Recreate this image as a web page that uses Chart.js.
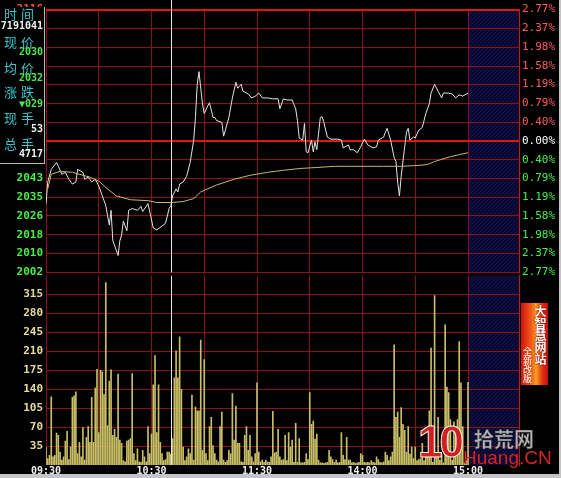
<!DOCTYPE html>
<html>
<head>
<meta charset="utf-8">
<script src="https://cdn.jsdelivr.net/npm/chart.js@4.4.0/dist/chart.umd.min.js"></script>
<style>
  html, body { margin: 0; padding: 0; background: #000; }
  #wrap { position: relative; width: 561px; height: 478px; background: #000; overflow: hidden; }
  #wrap canvas { position: absolute; left: 0; }
  #priceChart { top: 0; z-index: 2; }
  #volChart { top: 266px; z-index: 1; }
  .frame-r { position: absolute; right: 0; top: 0; width: 2px; height: 478px; background: #c4c4c4; z-index: 9; }
  .frame-b { position: absolute; left: 0; top: 474px; width: 561px; height: 4px; background: #c4c4c4; z-index: 9; }
  #info { position: absolute; left: 0; top: 7px; width: 44px; height: 156px; background: #000;
          border-right: 1px solid #b8b8b8; border-bottom: 1px solid #b8b8b8; z-index: 5; }
  #info div { position: absolute; left: 0; width: 43px; height: 14px; line-height: 14px; white-space: nowrap; }
  #info .lab { font: 13px "Noto Sans CJK SC"; color: #38c4cc; letter-spacing: 4px; padding-left: 4px; }
  #info .val { font: bold 10px "DejaVu Sans Mono"; text-align: right; }
  .w { color: #f4f4f4; } .g { color: #4ee84e; }
  #ad { position: absolute; left: 521px; top: 303px; width: 27px; height: 82px; z-index: 5;
        background: linear-gradient(90deg, #d81010 0%, #f06018 40%, #f8a020 55%, #e03010 80%, #c80c0c 100%); }
  #ad .big { position: absolute; left: 13px; top: 2px; writing-mode: vertical-rl; font: bold 12px "Noto Sans CJK SC";
             color: #fff; line-height: 13px; text-shadow: 0 0 1px #800, 0 0 2px #800; }
  #ad .small { position: absolute; left: 1px; top: 44px; writing-mode: vertical-rl; font: 9px "Noto Sans CJK SC";
               color: #fff; line-height: 10px; }
  #logo { position: absolute; left: 414px; top: 422px; width: 140px; height: 50px; z-index: 6; }
  #logo .ten { position: absolute; left: 4px; top: -5px; font: bold 44px "Liberation Sans"; color: #d41e1e;
               -webkit-text-stroke: 1px #f0f0f0; letter-spacing: -3px; }
  #logo .cn { position: absolute; left: 60px; top: 2px; font: bold 20px "Noto Sans CJK SC"; color: #b4b4b4;
              -webkit-text-stroke: 0.5px #333; }
  #logo .en { position: absolute; left: 49px; top: 25px; font: 19px "Liberation Sans"; color: #d82222; }
</style>
</head>
<body>
<div id="wrap">
  <canvas id="priceChart" width="561" height="282"></canvas>
  <canvas id="volChart" width="561" height="212"></canvas>
  <div id="info">
    <div class="lab" style="top:-3px">时间</div>
    <div class="val w" style="top:13px">7191041</div>
    <div class="lab" style="top:25px">现价</div>
    <div class="val g" style="top:39px">2030</div>
    <div class="lab" style="top:51px">均价</div>
    <div class="val g" style="top:65px">2032</div>
    <div class="lab" style="top:75px">涨跌</div>
    <div class="val g" style="top:91px">▼029</div>
    <div class="lab" style="top:101px">现手</div>
    <div class="val w" style="top:116px">53</div>
    <div class="lab" style="top:127px">总手</div>
    <div class="val w" style="top:141px">4717</div>
  </div>
  <div id="ad"><div class="big">大智慧网站</div><div class="small">全新改版</div></div>
  <div id="logo"><span class="ten">10</span><span class="cn">拾荒网</span><span class="en">Huang.CN</span></div>
  <div class="frame-r"></div>
  <div class="frame-b"></div>
</div>
<script>
// --- data ---
const PRE_CLOSE = 2059;
const CURSOR_MINUTE = 71;          // 10:41 crosshair
const X_MAX = 269;                 // axis runs a bit past 15:00 (shaded area)

const pctTicks = [2.77, 2.37, 1.98, 1.58, 1.19, 0.79, 0.40, 0.00, -0.40, -0.79, -1.19, -1.58, -1.98, -2.37, -2.77];
const priceTickLabels = [2116, 2108, 2100, 2092, 2084, 2075, 2067, 2059, 2051, 2043, 2035, 2026, 2018, 2010, 2002];
const volTicks = [35, 70, 105, 140, 175, 210, 245, 280, 315];
const gridMinutes = [0, 30, 60, 90, 120, 150, 180, 210, 240];
const timeLabels = { 0: '09:30', 60: '10:30', 120: '11:30', 180: '14:00', 240: '15:00' };

const priceMinutes = [0, 1, 3, 6, 7, 9, 11, 13, 15, 17, 18, 21, 22, 24, 26, 28, 30, 32, 34, 35, 36, 37, 38, 40, 41, 42, 43, 44, 46, 47,
  49, 52, 54, 55, 58, 59, 61, 63, 66, 68, 70, 71, 72, 74, 75, 76, 78, 80, 82, 84, 85, 86, 87, 88, 89, 90, 92, 93, 95, 96,
  97, 100, 101, 102, 104, 106, 108, 109, 111, 112, 115, 117, 119, 121, 123, 126, 129, 132, 133, 135, 137, 140, 142, 143, 144, 146, 147, 148, 149, 151,
  152, 153, 154, 156, 157, 158, 160, 162, 166, 168, 169, 172, 173, 175, 177, 179, 181, 183, 186, 188, 189, 192, 193, 194, 196, 198, 199, 200, 201, 202,
  204, 205, 206, 207, 209, 210, 212, 214, 216, 218, 219, 221, 223, 225, 226, 229, 231, 233, 235, 237, 239, 240];
const priceValues = [2031.8, 2041.2, 2046.7, 2049.7, 2048.0, 2044.6, 2045.4, 2042.4, 2040.3, 2041.2, 2046.7, 2045.4, 2042.4, 2043.3, 2041.2, 2042.4, 2039.5, 2035.2, 2031.0, 2026.7, 2022.5, 2028.9, 2015.7, 2011.5, 2009.3, 2015.7, 2018.2, 2024.2, 2020.0, 2028.9,
  2029.7, 2028.9, 2030.6, 2028.4, 2031.8, 2028.4, 2021.2, 2020.4, 2022.1, 2023.3, 2029.7, 2030.9, 2035.2, 2038.2, 2036.9, 2040.3, 2041.2, 2043.7, 2049.7, 2059.4, 2069.2, 2083.6, 2089.1, 2081.9, 2075.1, 2070.9, 2074.3, 2075.6, 2069.2, 2069.2,
  2067.9, 2067.1, 2061.1, 2063.7, 2069.2, 2077.7, 2084.5, 2081.9, 2083.6, 2080.6, 2079.4, 2077.7, 2078.5, 2079.8, 2077.7, 2077.7, 2077.3, 2077.3, 2073.0, 2077.3, 2076.8, 2076.8, 2073.0, 2067.9, 2060.3, 2059.4, 2066.6, 2054.3, 2053.9, 2059.4,
  2054.3, 2058.6, 2055.2, 2069.2, 2069.6, 2067.1, 2060.7, 2059.8, 2059.8, 2059.4, 2056.0, 2057.3, 2055.2, 2055.2, 2053.9, 2056.5, 2059.8, 2057.3, 2056.0, 2056.5, 2059.4, 2060.7, 2062.8, 2064.5, 2059.4, 2051.8, 2050.1, 2041.2, 2035.2, 2043.7,
  2056.5, 2062.8, 2064.5, 2059.4, 2060.7, 2060.3, 2063.7, 2064.9, 2070.9, 2075.1, 2079.8, 2083.6, 2080.6, 2077.7, 2079.8, 2079.8, 2079.4, 2077.7, 2079.0, 2078.5, 2079.4, 2079.8];

const avgMinutes = [1, 3, 8, 15, 25, 30, 35, 40, 48, 58, 63, 71, 78, 84, 88, 97, 107, 116, 126, 135, 145, 154, 164, 173, 192, 202, 212, 217, 221, 230, 240];
const avgValues = [2038.2, 2044.6, 2045.8, 2045.4, 2043.3, 2041.6, 2038.2, 2035.2, 2033.5, 2033.1, 2032.3, 2032.3, 2032.7, 2034.0, 2036.9, 2039.9, 2042.4, 2044.1, 2045.4, 2046.3,
  2047.1, 2047.5, 2048.0, 2048.0, 2048.0, 2048.0, 2048.4, 2048.8, 2050.1, 2052.2, 2053.9];

// one bar per minute, 09:30 .. 15:00
const volumes = [33, 12, 18, 126, 15, 18, 59, 55, 24, 9, 15, 44, 62, 10, 33, 125, 128, 135, 21, 42, 15, 69, 9, 51, 71, 42, 125, 42, 142, 177,
  60, 175, 172, 130, 337, 73, 155, 176, 55, 66, 51, 168, 46, 40, 8, 6, 44, 46, 49, 169, 21, 8, 30, 6, 5, 27, 15, 6, 71, 21,
  57, 148, 202, 60, 148, 42, 21, 8, 10, 24, 24, 20, 49, 161, 211, 161, 237, 140, 33, 8, 15, 30, 21, 129, 9, 107, 100, 100, 231, 27,
  195, 21, 8, 71, 88, 36, 21, 9, 6, 71, 98, 9, 5, 8, 27, 21, 132, 46, 109, 40, 40, 6, 5, 55, 71, 27, 55, 15, 6, 21,
  152, 24, 6, 9, 5, 9, 6, 5, 15, 99, 22, 24, 66, 15, 9, 10, 55, 8, 60, 33, 46, 5, 77, 5, 49, 4, 4, 5, 21, 10,
  134, 75, 81, 48, 57, 9, 4, 4, 3, 4, 5, 27, 15, 10, 5, 9, 4, 5, 60, 18, 10, 51, 9, 9, 4, 5, 3, 4, 5, 21,
  18, 5, 4, 5, 4, 8, 5, 4, 15, 10, 5, 4, 6, 24, 18, 8, 15, 24, 222, 88, 98, 51, 106, 75, 64, 24, 71, 20, 33, 12,
  33, 8, 10, 12, 40, 8, 20, 18, 100, 216, 5, 313, 20, 88, 9, 20, 4, 259, 144, 134, 84, 9, 80, 71, 84, 228, 152, 71, 4, 8,
  153];

// --- styling helpers ---
const GRID = '#8e1019';
const GRID_HOT = '#e01616';
const MONO = 'DejaVu Sans Mono';

function hatchPattern(ctx) {
  const c = document.createElement('canvas');
  c.width = 4; c.height = 4;
  const g = c.getContext('2d');
  g.fillStyle = '#08082e';
  g.fillRect(0, 0, 4, 4);
  g.fillStyle = '#141452';
  for (let i = 0; i < 4; i++) g.fillRect(i, 3 - i, 1, 1);
  return ctx.createPattern(c, 'repeat');
}

// shaded area after the close + the crosshair
const closedArea = {
  id: 'closedArea',
  beforeDraw(chart) {
    const { ctx, chartArea: a, scales: { x } } = chart;
    const x0 = x.getPixelForValue(240);
    ctx.save();
    ctx.fillStyle = hatchPattern(ctx);
    ctx.fillRect(x0, a.top, a.right - x0, a.bottom - a.top);
    ctx.restore();
  }
};
const cursorLine = {
  id: 'cursorLine',
  afterDatasetsDraw(chart, args, opts) {
    const { ctx, chartArea: a, scales: { x } } = chart;
    const px = Math.round(x.getPixelForValue(CURSOR_MINUTE)) + 0.5;
    ctx.save();
    ctx.strokeStyle = '#e8e8e8';
    ctx.lineWidth = 1;
    ctx.beginPath();
    ctx.moveTo(px, opts.fromTop ? 0 : a.top);
    ctx.lineTo(px, a.bottom);
    ctx.stroke();
    ctx.restore();
  }
};

const xGridAxis = {
  type: 'linear', min: 0, max: X_MAX, offset: false,
  afterBuildTicks: s => { s.ticks = gridMinutes.map(v => ({ value: v })); },
  grid: { color: GRID, lineWidth: 1, drawTicks: false, offset: false },
  border: { display: false }
};

// 1. price + average line
new Chart(document.getElementById('priceChart'), {
  type: 'line',
  data: {
    datasets: [
      {
        label: '均价',
        data: avgMinutes.map((m, i) => ({ x: m, y: avgValues[i] })),
        borderColor: '#cbb56c', borderWidth: 1, pointRadius: 0, tension: 0, yAxisID: 'y'
      },
      {
        label: '现价',
        data: priceMinutes.map((m, i) => ({ x: m, y: priceValues[i] })),
        borderColor: '#e4e4e4', borderWidth: 1, pointRadius: 0, tension: 0, yAxisID: 'y'
      }
    ]
  },
  options: {
    responsive: false,
    animation: false,
    layout: { padding: { top: 8, bottom: 8, left: 0, right: 0 } },
    plugins: { legend: { display: false }, tooltip: { enabled: false }, cursorLine: { fromTop: true } },
    scales: {
      x: Object.assign({}, xGridAxis, {
        ticks: { display: false },
        afterFit: s => { s.height = 0; }
      }),
      y: {
        position: 'left',
        min: PRE_CLOSE * (1 - 0.0277), max: PRE_CLOSE * (1 + 0.0277),
        afterBuildTicks: s => { s.ticks = pctTicks.map(p => ({ value: PRE_CLOSE * (1 + p / 100) })); },
        ticks: {
          padding: 3,
          font: { family: MONO, size: 11, weight: 'bold' },
          color: c => c.tick.value > PRE_CLOSE + 0.5 ? '#ff4a4a' : (c.tick.value < PRE_CLOSE - 0.5 ? '#48ee48' : '#ffffff'),
          callback: (v, i) => priceTickLabels[i]
        },
        grid: {
          drawTicks: false,
          color: c => (Math.abs(c.tick.value - PRE_CLOSE) < 0.5 || c.index === 0) ? GRID_HOT : GRID,
          lineWidth: c => (Math.abs(c.tick.value - PRE_CLOSE) < 0.5 || c.index === 0) ? 2 : 1
        },
        border: { display: false },
        afterFit: s => { s.width = 46; }
      },
      y1: {
        position: 'right',
        min: -2.77, max: 2.77,
        afterBuildTicks: s => { s.ticks = pctTicks.map(p => ({ value: p })); },
        ticks: {
          padding: 3,
          font: { family: MONO, size: 11 },
          color: c => c.tick.value > 0.001 ? '#ff5a5a' : (c.tick.value < -0.001 ? '#48ee48' : '#ffffff'),
          callback: v => Math.abs(v).toFixed(2) + '%'
        },
        grid: { display: false, drawTicks: false },
        border: { display: true, color: '#c01820', width: 1 },
        afterFit: s => { s.width = 42; }
      }
    }
  },
  plugins: [closedArea, cursorLine]
});

// 2. volume bars
new Chart(document.getElementById('volChart'), {
  type: 'bar',
  data: {
    datasets: [{
      label: '成交量',
      data: volumes.map((v, i) => ({ x: i, y: v })),
      backgroundColor: '#c8be66',
      barThickness: 1,
      yAxisID: 'y'
    }]
  },
  options: {
    responsive: false,
    animation: false,
    layout: { padding: { top: 8, bottom: 0, left: 0, right: 0 } },
    plugins: { legend: { display: false }, tooltip: { enabled: false }, cursorLine: { fromTop: false } },
    scales: {
      x: Object.assign({}, xGridAxis, {
        ticks: {
          autoSkip: false, maxRotation: 0, padding: 0,
          font: { family: MONO, size: 10, weight: 'bold' }, color: '#f0f0f0',
          callback: v => timeLabels[v] || ''
        },
        afterFit: s => { s.height = 13; }
      }),
      y: {
        position: 'left',
        min: 0, max: 350,
        afterBuildTicks: s => { s.ticks = volTicks.map(v => ({ value: v })); },
        ticks: { padding: 3, font: { family: MONO, size: 11, weight: 'bold' }, color: '#e6dc98' },
        grid: { drawTicks: false, color: GRID, lineWidth: 1 },
        border: { display: false },
        afterFit: s => { s.width = 46; }
      },
      yr: {
        position: 'right',
        min: 0, max: 1,
        ticks: { display: false },
        grid: { display: false, drawTicks: false },
        border: { display: true, color: '#c01820', width: 1 },
        afterFit: s => { s.width = 42; }
      }
    }
  },
  plugins: [closedArea, cursorLine]
});
</script>
</body>
</html>
